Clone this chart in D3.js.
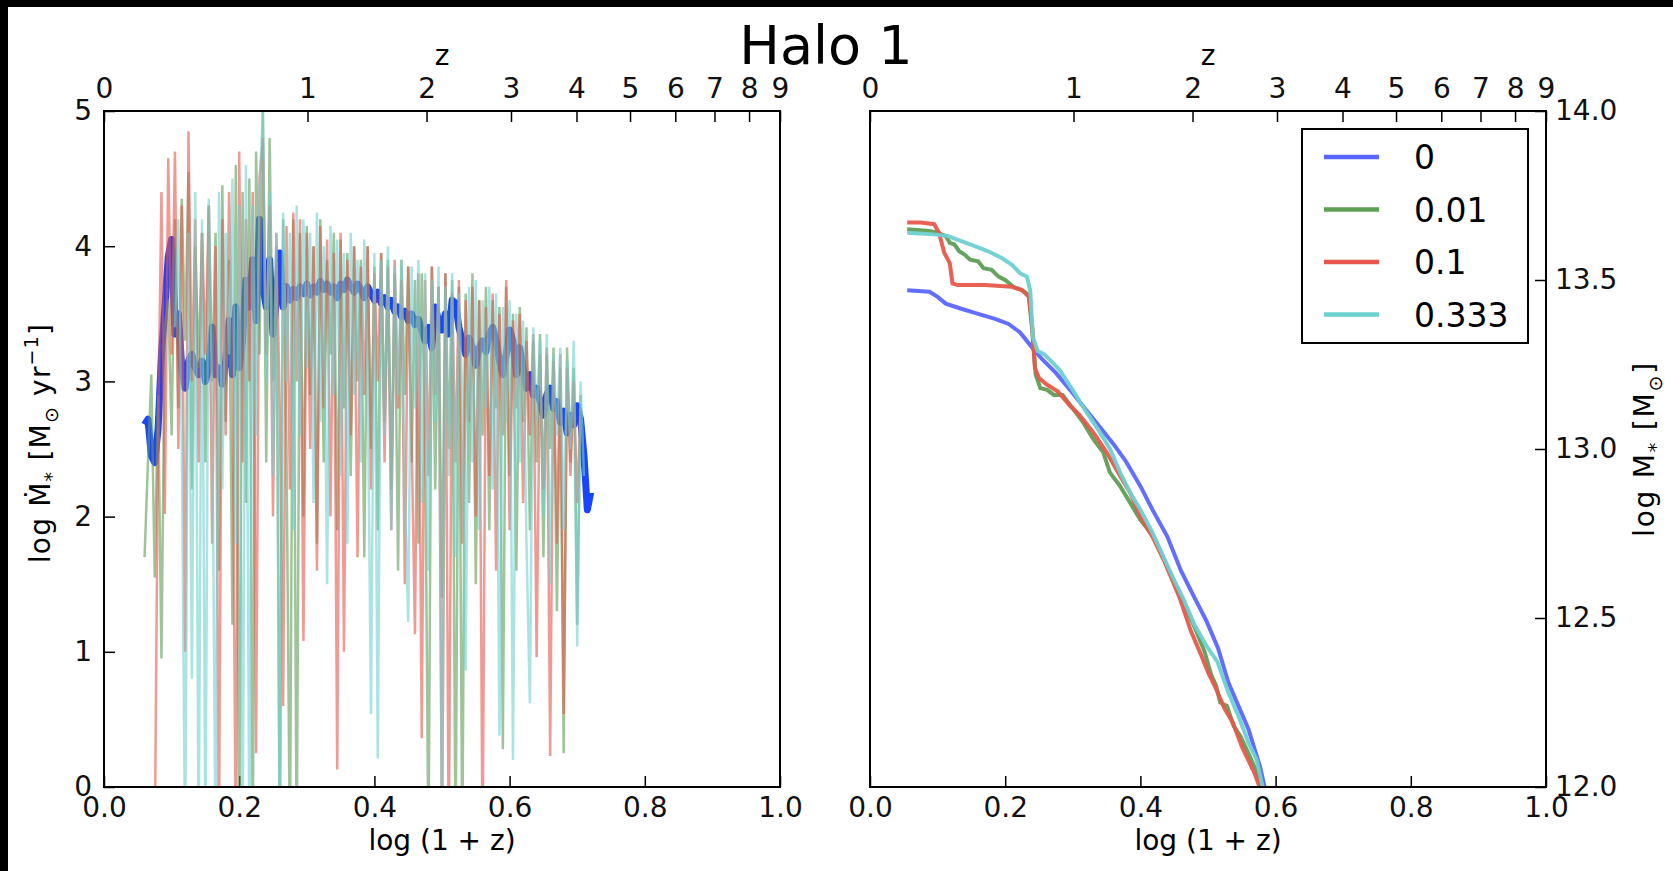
<!DOCTYPE html>
<html>
<head>
<meta charset="utf-8">
<script src="https://cdn.jsdelivr.net/npm/d3@7"></script>
<style>
  body { margin: 0; background: #fff; }
  text { font-family: "DejaVu Sans", sans-serif; }
</style>
</head>
<body>
<svg id="chart"></svg>
<script>

// log(1 + z) sampling of the star formation histories
const lgz = [
  0.060,0.065,0.070,0.075,0.080,0.085,0.090,0.095,0.100,0.105,
  0.110,0.115,0.120,0.125,0.130,0.135,0.140,0.145,0.150,0.155,
  0.160,0.165,0.170,0.175,0.180,0.185,0.190,0.195,0.200,0.205,
  0.210,0.215,0.220,0.225,0.230,0.235,0.240,0.245,0.250,0.255,
  0.260,0.265,0.270,0.275,0.280,0.285,0.290,0.295,0.300,0.305,
  0.310,0.315,0.320,0.325,0.330,0.335,0.340,0.345,0.350,0.355,
  0.360,0.365,0.370,0.375,0.380,0.385,0.390,0.395,0.400,0.405,
  0.410,0.415,0.420,0.425,0.430,0.435,0.440,0.445,0.450,0.455,
  0.460,0.465,0.470,0.475,0.480,0.485,0.490,0.495,0.500,0.505,
  0.510,0.515,0.520,0.525,0.530,0.535,0.540,0.545,0.550,0.555,
  0.560,0.565,0.570,0.575,0.580,0.585,0.590,0.595,0.600,0.605,
  0.610,0.615,0.620,0.625,0.630,0.635,0.640,0.645,0.650,0.655,
  0.660,0.665,0.670,0.675,0.680,0.685,0.690,0.695,0.700,0.705,
  0.710,0.715,0.720
];

// log SFR, one list per feedback value (values below 0 run off the axis)
const sfr0 = [
  2.68,2.72,2.45,2.40,2.65,3.20,3.55,3.92,4.05,3.35,
  3.50,3.10,2.95,3.15,3.20,3.10,3.05,3.15,3.00,3.10,
  3.40,3.05,3.10,2.98,3.15,3.45,3.05,3.55,3.10,3.30,
  3.75,3.55,3.90,3.45,4.20,3.70,3.55,3.90,3.35,3.60,
  3.95,3.55,3.70,3.60,3.68,3.62,3.70,3.65,3.72,3.64,
  3.70,3.66,3.74,3.68,3.72,3.66,3.70,3.62,3.72,3.68,
  3.75,3.70,3.66,3.72,3.68,3.62,3.70,3.65,3.60,3.66,
  3.58,3.62,3.55,3.60,3.52,3.55,3.48,3.52,3.45,3.50,
  3.42,3.46,3.38,3.30,3.40,3.25,3.55,3.45,3.38,3.50,
  3.35,3.60,3.58,3.40,3.30,3.20,3.32,3.25,3.12,3.25,
  3.30,3.22,3.35,3.40,3.30,3.15,3.05,3.20,3.38,3.30,
  3.05,3.25,3.10,2.95,3.05,2.90,2.95,2.85,2.75,2.90,
  2.95,2.80,2.85,2.70,2.78,2.62,2.75,2.68,2.82,2.72,
  2.45,2.05,2.18
];
const sfr001 = [
  1.70,2.40,3.05,1.55,2.90,0.95,3.40,3.60,2.60,4.20,
  2.80,4.35,3.30,4.55,2.20,4.00,3.10,4.10,2.40,4.30,
  3.00,4.10,1.60,4.45,2.70,3.90,1.20,4.60,-0.5,4.40,
  2.10,4.50,-0.5,4.70,3.20,5.00,2.40,4.80,3.00,4.00,
  -0.5,4.20,2.50,-0.5,4.20,-0.5,4.10,2.00,4.15,2.90,
  4.00,1.80,4.20,2.40,3.90,3.20,4.10,1.90,4.05,2.80,
  3.95,2.30,4.00,3.00,3.90,1.70,4.00,2.50,3.85,1.90,
  3.95,2.70,3.90,2.20,3.80,1.60,3.90,2.90,3.85,2.40,
  3.75,1.80,3.80,2.60,-0.5,3.85,2.20,3.70,1.40,3.80,
  2.50,3.75,-0.5,3.70,-0.5,3.65,2.10,3.80,1.50,3.60,
  2.60,3.70,1.90,3.60,2.80,3.55,0.28,3.70,2.30,3.50,
  1.60,3.55,2.70,3.40,1.90,3.30,2.40,3.35,1.70,3.20,
  2.50,3.25,1.30,3.10,0.25,3.25,2.40,3.10,1.20,2.90,
  null,null,null
];
const sfr01 = [
  null,null,null,-0.5,2.60,4.40,2.02,4.65,3.20,4.70,
  2.50,4.30,1.00,4.85,3.00,4.20,2.40,4.10,3.20,4.30,
  1.80,4.00,-0.5,4.20,2.60,4.40,3.10,-0.5,4.70,2.40,
  4.20,3.00,4.40,0.25,4.50,4.80,3.20,4.30,2.00,4.10,
  2.80,0.60,4.15,2.20,4.25,3.00,4.20,1.08,4.10,2.50,
  4.00,1.60,4.15,2.80,4.05,2.00,3.95,0.13,4.10,1.00,
  3.90,2.60,4.00,1.70,3.85,2.90,4.00,2.20,3.80,3.00,
  3.95,2.40,3.85,1.90,3.90,2.80,3.75,1.50,3.85,2.60,
  1.13,3.80,0.36,3.75,2.30,3.85,2.90,3.70,-0.5,3.80,
  -0.5,3.65,2.40,3.75,1.80,3.60,2.70,3.70,2.00,3.60,
  -0.5,3.55,2.30,3.65,1.60,3.50,2.60,3.75,1.90,3.45,
  2.80,3.50,2.10,3.30,2.60,3.35,0.96,3.20,2.20,3.25,
  0.23,3.15,1.80,3.20,0.54,3.10,2.30,3.00,2.10,2.80,
  null,null,null
];
const sfr0333 = [
  null,null,null,null,null,null,null,null,null,3.40,
  4.20,2.60,-0.5,4.10,0.80,4.40,-0.5,4.20,-0.5,4.35,
  2.90,-0.5,4.40,2.20,4.10,3.20,4.50,1.80,4.30,-0.5,
  4.60,-0.5,4.30,2.60,4.40,5.00,3.00,4.40,2.30,4.10,
  -0.5,4.25,3.00,4.10,1.90,4.30,2.60,4.20,3.10,4.10,
  2.10,4.25,2.70,4.00,1.50,4.15,2.90,4.05,2.30,3.95,
  1.80,4.10,2.90,3.90,2.40,4.05,3.10,0.54,3.95,0.21,
  3.90,2.60,4.00,1.90,3.85,2.90,3.90,2.20,1.22,3.85,
  2.80,3.90,2.10,3.80,1.60,3.75,2.70,3.85,-0.5,3.70,
  2.30,3.80,1.70,3.65,2.90,0.86,3.70,2.40,3.75,1.90,
  3.60,2.80,3.70,2.20,3.65,0.38,3.55,2.70,3.60,0.20,
  3.50,2.40,3.45,1.80,0.62,3.40,2.70,3.30,2.00,3.35,
  1.50,3.20,2.60,3.25,1.90,3.15,2.50,3.30,1.04,3.00,
  2.30,null,null
];

// cumulative stellar mass, [log(1+z), log M*]
const mass0 = [[0.055,13.47],[0.088,13.465],[0.100,13.45],[0.112,13.43],[0.135,13.415],[0.160,13.40],
  [0.185,13.385],[0.205,13.37],[0.222,13.345],[0.240,13.30],[0.255,13.265],[0.275,13.225],[0.300,13.165],
  [0.320,13.115],[0.340,13.065],[0.360,13.015],[0.378,12.965],[0.400,12.89],[0.418,12.82],[0.440,12.74],
  [0.460,12.64],[0.480,12.56],[0.498,12.49],[0.515,12.41],[0.530,12.31],[0.545,12.24],[0.560,12.17],
  [0.577,12.06],[0.586,11.98]];
const mass001 = [[0.055,13.65],[0.088,13.645],[0.100,13.64],[0.112,13.63],[0.118,13.61],[0.125,13.605],
  [0.132,13.585],[0.140,13.575],[0.148,13.56],[0.160,13.555],[0.168,13.535],[0.180,13.53],[0.190,13.51],
  [0.200,13.50],[0.212,13.48],[0.225,13.47],[0.235,13.455],[0.240,13.35],[0.245,13.22],[0.252,13.18],
  [0.262,13.175],[0.272,13.16],[0.285,13.16],[0.300,13.12],[0.315,13.08],[0.330,13.03],[0.345,12.99],
  [0.355,12.93],[0.370,12.89],[0.385,12.84],[0.400,12.79],[0.420,12.74],[0.440,12.65],[0.458,12.57],
  [0.470,12.52],[0.485,12.45],[0.495,12.40],[0.505,12.33],[0.512,12.30],[0.518,12.25],[0.528,12.24],
  [0.538,12.18],[0.548,12.15],[0.562,12.09],[0.575,12.03],[0.582,11.98]];
const mass01 = [[0.055,13.67],[0.075,13.67],[0.095,13.665],[0.102,13.64],[0.110,13.58],[0.118,13.55],
  [0.122,13.49],[0.130,13.485],[0.170,13.485],[0.210,13.48],[0.225,13.47],[0.235,13.45],[0.240,13.36],
  [0.244,13.24],[0.250,13.21],[0.262,13.19],[0.278,13.17],[0.295,13.13],[0.310,13.10],[0.330,13.05],
  [0.350,12.99],[0.370,12.92],[0.385,12.87],[0.400,12.80],[0.418,12.74],[0.435,12.67],[0.458,12.56],
  [0.475,12.46],[0.490,12.39],[0.500,12.34],[0.512,12.29],[0.525,12.23],[0.537,12.19],[0.550,12.12],
  [0.569,12.04],[0.580,11.98]];
const mass0333 = [[0.055,13.64],[0.095,13.635],[0.115,13.63],[0.135,13.615],[0.155,13.60],[0.175,13.585],
  [0.195,13.565],[0.210,13.545],[0.222,13.52],[0.232,13.51],[0.237,13.47],[0.241,13.33],[0.248,13.29],
  [0.258,13.28],[0.268,13.26],[0.280,13.235],[0.298,13.18],[0.320,13.11],[0.340,13.05],[0.355,13.00],
  [0.370,12.93],[0.385,12.87],[0.400,12.82],[0.416,12.76],[0.432,12.69],[0.448,12.62],[0.465,12.55],
  [0.480,12.48],[0.497,12.42],[0.514,12.37],[0.530,12.28],[0.545,12.21],[0.560,12.13],[0.572,12.08],
  [0.583,11.98]];

const seriesNames = ["0", "0.01", "0.1", "0.333"];
const zTicks = [0, 1, 2, 3, 4, 5, 6, 7, 8, 9];
const lgzTicks = [0.0, 0.2, 0.4, 0.6, 0.8, 1.0];
const sfrTicks = [0, 1, 2, 3, 4, 5];
const massTicks = [12.0, 12.5, 13.0, 13.5, 14.0];

const colors = ["#5a66ff", "#5e9e55", "#e8574c", "#6fd0d0"];

let width = 1673, height = 871;
let plotSize = 676, plotTop = 111;
let leftX = 104, rightX = 870;
let tickLen = 11, fontSize = 28;

const svg = d3.select("#chart").attr("width", width).attr("height", height);

svg.append("rect").attr("width", width).attr("height", height).attr("fill", "#fff");
// black strips at the top and left edge
svg.append("rect").attr("width", width).attr("height", 7).attr("fill", "#000");
svg.append("rect").attr("width", 8).attr("height", height).attr("fill", "#000");

svg.append("text")
    .attr("x", 826).attr("y", 64)
    .attr("text-anchor", "middle")
    .attr("font-size", 54)
    .text("Halo 1");

const xScale = d3.scaleLinear().domain([0, 1]).range([0, plotSize]);
const ySfr = d3.scaleLinear().domain([0, 5]).range([plotSize, 0]);
const yMass = d3.scaleLinear().domain([12, 14]).range([plotSize, 0]);

function styleAxis(g) {
    g.select(".domain").remove();
    g.selectAll(".tick line").attr("stroke", "#000").attr("stroke-width", 1.5);
    g.selectAll(".tick text")
        .attr("font-size", fontSize)
        .attr("font-family", "DejaVu Sans")
        .attr("fill", "#111");
}

function makePanel(x0, id) {
    let g = svg.append("g").attr("transform", "translate(" + x0 + "," + plotTop + ")");
    g.append("clipPath").attr("id", id)
        .append("rect").attr("width", plotSize).attr("height", plotSize);

    // bottom log(1+z) axis
    g.append("g")
        .attr("transform", "translate(0," + plotSize + ")")
        .call(d3.axisBottom(xScale).tickValues(lgzTicks).tickFormat(d3.format(".1f"))
            .tickSize(-tickLen).tickPadding(10))
        .call(styleAxis);

    // top redshift axis
    g.append("g")
        .call(d3.axisTop(xScale)
            .tickValues(zTicks.map(z => Math.log10(1 + z)))
            .tickFormat((d, i) => zTicks[i])
            .tickSize(-tickLen).tickPadding(13))
        .call(styleAxis);

    g.append("text")
        .attr("x", plotSize / 2).attr("y", -46)
        .attr("text-anchor", "middle")
        .attr("font-size", fontSize)
        .text("z");

    g.append("text")
        .attr("x", plotSize / 2).attr("y", plotSize + 63)
        .attr("text-anchor", "middle")
        .attr("font-size", fontSize)
        .text("log (1 + z)");

    let plot = g.append("g").attr("clip-path", "url(#" + id + ")");
    return {g: g, plot: plot};
}

function rotatedLabel(x, y, parts, spacing) {
    let t = svg.append("text")
        .attr("transform", "translate(" + x + "," + y + ") rotate(-90)")
        .attr("text-anchor", "middle")
        .attr("letter-spacing", spacing)
        .attr("font-size", fontSize);
    let shift = 0;
    parts.forEach(p => {
        let target = p[1] === "sub" ? 8 : p[1] === "sup" ? -12 : 0;
        t.append("tspan")
            .attr("dy", target - shift)
            .attr("font-size", p[1] ? 19 : fontSize)
            .text(p[0]);
        shift = target;
    });
}

// ---- left panel: star formation rate
let left = makePanel(leftX, "clipLeft");

left.g.append("g")
    .call(d3.axisLeft(ySfr).tickValues(sfrTicks).tickFormat(d3.format("d"))
        .tickSize(-tickLen).tickPadding(12))
    .call(styleAxis);

let sfrLine = d3.line()
    .defined(d => d[1] != null)
    .x(d => xScale(d[0]))
    .y(d => ySfr(d[1]));

left.plot.append("path")
    .datum(lgz.map((x, i) => [x, sfr0[i]]))
    .attr("d", sfrLine)
    .attr("fill", "none")
    .attr("stroke", "#0635ff")
    .attr("stroke-opacity", 0.92)
    .attr("stroke-width", 7)
    .attr("stroke-linejoin", "round");

[sfr001, sfr01, sfr0333].forEach((vals, k) => {
    left.plot.append("path")
        .datum(lgz.map((x, i) => [x, vals[i]]))
        .attr("d", sfrLine)
        .attr("fill", "none")
        .attr("stroke", colors[k + 1])
        .attr("stroke-opacity", 0.6)
        .attr("stroke-width", 2.5);
});

left.g.append("rect")
    .attr("width", plotSize).attr("height", plotSize)
    .attr("fill", "none").attr("stroke", "#000").attr("stroke-width", 2);

rotatedLabel(50, plotTop + plotSize / 2 - 6,
    [["log \u1E40", ""], ["*", "sub"], [" [M", ""], ["\u2299", "sub"], [" yr", ""], ["\u22121", "sup"], ["]", ""]], 1.2);

// ---- right panel: stellar mass
let right = makePanel(rightX, "clipRight");

right.g.append("g")
    .attr("transform", "translate(" + plotSize + ",0)")
    .call(d3.axisRight(yMass).tickValues(massTicks).tickFormat(d3.format(".1f"))
        .tickSize(-tickLen).tickPadding(9))
    .call(styleAxis);

let massLine = d3.line()
    .x(d => xScale(d[0]))
    .y(d => yMass(d[1]));

[mass0, mass001, mass01, mass0333].forEach((pts, k) => {
    right.plot.append("path")
        .datum(pts)
        .attr("d", massLine)
        .attr("fill", "none")
        .attr("stroke", colors[k])
        .attr("stroke-width", 4)
        .attr("stroke-opacity", 0.95);
});

right.g.append("rect")
    .attr("width", plotSize).attr("height", plotSize)
    .attr("fill", "none").attr("stroke", "#000").attr("stroke-width", 2);

rotatedLabel(rightX + plotSize + 108, plotTop + plotSize / 2,
    [["log M", ""], ["*", "sub"], [" [M", ""], ["\u2299", "sub"], ["]", ""]], 1.8);

// legend
let legend = right.g.append("g").attr("transform", "translate(" + (plotSize - 244) + ",18)");
legend.append("rect")
    .attr("width", 226).attr("height", 214)
    .attr("fill", "#fff").attr("stroke", "#000").attr("stroke-width", 2);
seriesNames.forEach((name, k) => {
    let y = 28 + k * 52.5;
    legend.append("line")
        .attr("x1", 22).attr("x2", 77).attr("y1", y).attr("y2", y)
        .attr("stroke", colors[k]).attr("stroke-width", 4.5);
    legend.append("text")
        .attr("x", 112).attr("y", y + 12)
        .attr("font-size", 33)
        .text(name);
});

</script>
</body>
</html>
